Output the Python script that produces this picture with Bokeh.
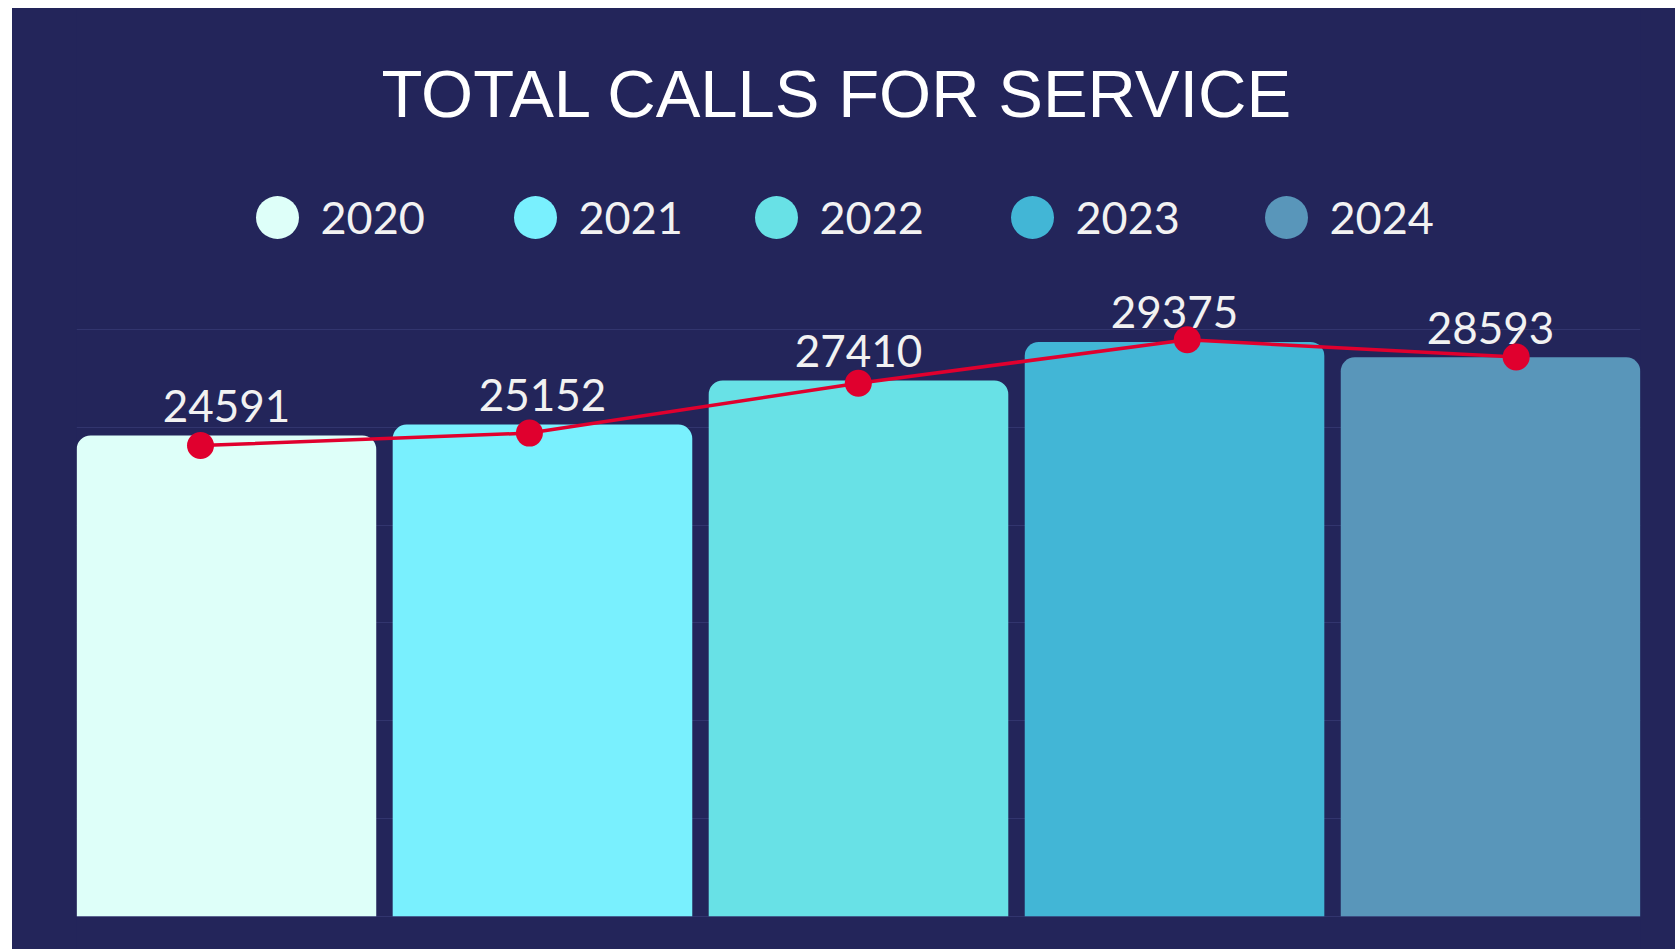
from bokeh.plotting import figure
from bokeh.models import Range1d, FixedTicker, ColumnDataSource
from bokeh.core.properties import value
from bokeh.embed import file_html
from bokeh.resources import INLINE

# ---- data ----
years = ["2020", "2021", "2022", "2023", "2024"]
calls = [24591, 25152, 27410, 29375, 28593]
bar_colors = ["#DEFFF9", "#79F0FE", "#68E1E6", "#42B6D6", "#5996BA"]
grid_ticks = [0, 5000, 10000, 15000, 20000, 25000, 30000]
title_text = "TOTAL CALLS FOR SERVICE"

# ---- layout constants (page pixels) ----
BG = "#23255A"
W, H = 1663, 941
legend_cx = [277, 535, 776, 1032, 1286]
legend_cy = 217

idx = list(range(len(years)))

p = figure(width=W, height=H, output_backend="svg", toolbar_location=None,
           x_range=Range1d(-0.4745, 4.4745), y_range=Range1d(-1703, 46435),
           min_border_left=64, min_border_right=35, min_border_top=0, min_border_bottom=0)
p.margin = (8, 0, 0, 12)
p.styles = {"background-color": BG}
p.extra_x_ranges = {"line": Range1d(-0.377, 4.378), "px": Range1d(76, 1640)}
p.extra_y_ranges = {"line": Range1d(1779, 44369), "px": Range1d(949, 8)}

p.background_fill_color = BG
p.border_fill_color = BG
p.outline_line_color = None
p.axis.visible = False
p.xgrid.visible = False
p.ygrid.ticker = FixedTicker(ticks=grid_ticks)
p.ygrid.grid_line_color = "#32356E"
p.ygrid.grid_line_width = 1

src = ColumnDataSource(dict(x=idx, calls=calls, color=bar_colors, year=years,
                            label=[str(v) for v in calls]))

p.vbar(x="x", top="calls", bottom=0, width=0.948, fill_color="color",
       line_color=None, border_radius=(14, 14, 0, 0), source=src)

# value labels above bars
p.text(x="x", y="calls", text="label", source=src, text_align="center",
       text_baseline="middle", y_offset=-29.5, text_color="#F2F2F2",
       text_font=value("Lato"), text_font_size="44px")

# red trend line (own scales)
p.line(x="x", y="calls", source=src, x_range_name="line", y_range_name="line",
       line_color="#E0002E", line_width=3.5)
p.scatter(x="x", y="calls", source=src, x_range_name="line", y_range_name="line",
          size=27, fill_color="#E0002E", line_color=None)

# title
p.text(x=[837], y=[92.5], text=[title_text], x_range_name="px", y_range_name="px",
       text_align="center", text_baseline="middle", text_color="#FFFFFF",
       text_font=value("Liberation Sans"), text_font_size="67px")

# legend
lsrc = ColumnDataSource(dict(cx=legend_cx, cy=[legend_cy] * len(years),
                             tx=[c + 43 for c in legend_cx], year=years, color=bar_colors))
p.scatter(x="cx", y="cy", source=lsrc, x_range_name="px", y_range_name="px",
          size=43, fill_color="color", line_color=None)
p.text(x="tx", y="cy", text="year", source=lsrc, x_range_name="px", y_range_name="px",
       text_align="left", text_baseline="middle", text_color="#F2F2F2",
       text_font=value("Lato"), text_font_size="45px")

open("out.html", "w").write(file_html(p, INLINE))
